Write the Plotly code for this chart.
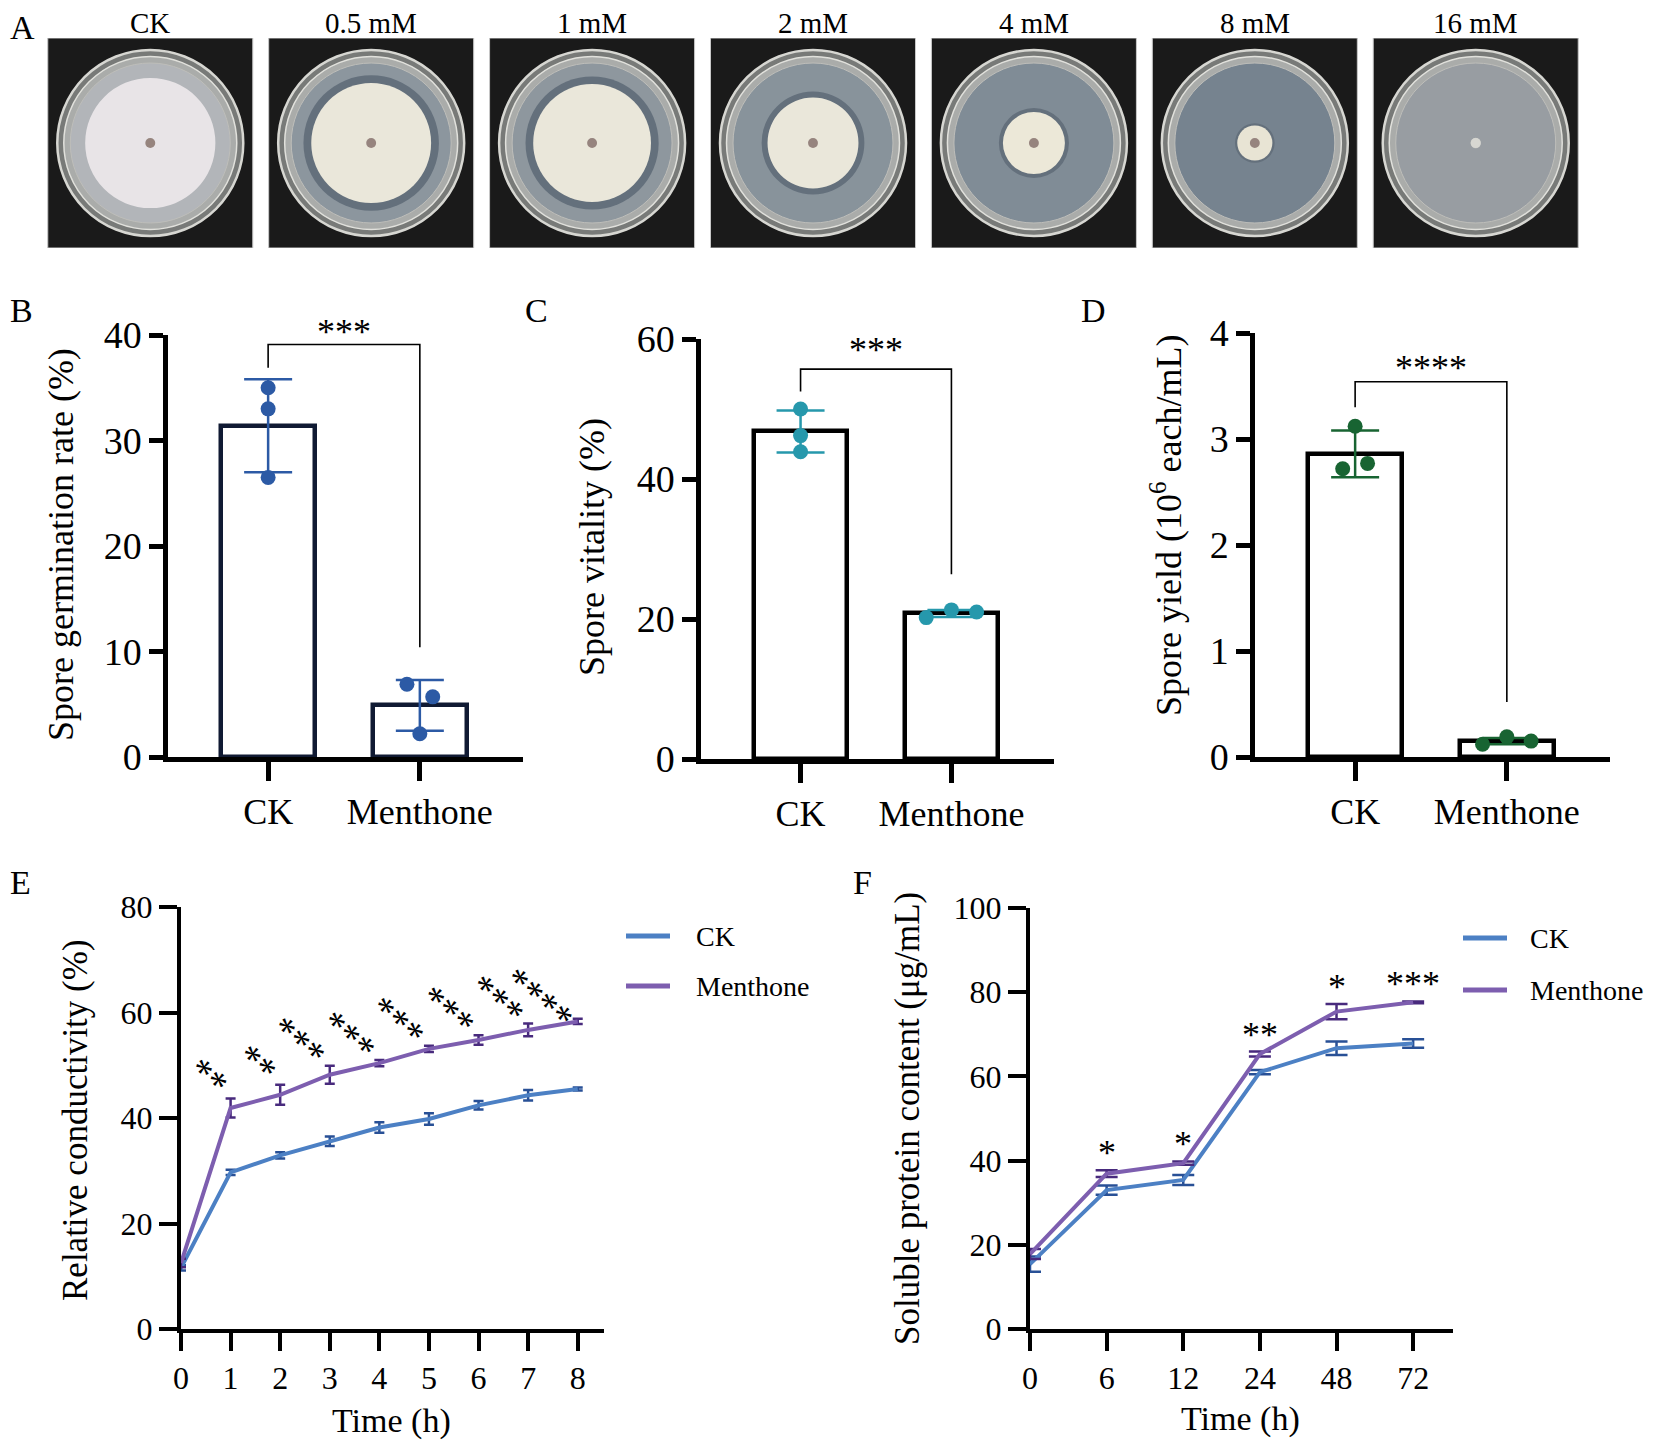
import plotly.graph_objects as go

W, H = 1654, 1443
OFF = 8  # page body margin compensation
FONT = "Liberation Serif"

# ---------------- data ----------------
plate_labels = ["CK", "0.5 mM", "1 mM", "2 mM", "4 mM", "8 mM", "16 mM"]
colony_diam_mm = [63, 58, 57, 44, 30, 17, 5]
dish_diam_mm = 90

groups = ["CK", "Menthone"]

germ_mean = [31.4, 4.9]
germ_sd = [4.4, 2.4]
germ_ck_pts = [35.0, 33.0, 26.5]
germ_men_pts = [6.9, 5.7, 2.2]
germ_bracket = [39.1, 36.9, 10.4]   # top, left end, right end
germ_sig = "***"

vital_mean = [46.8, 20.8]
vital_sd = [3.0, 0.5]
vital_ck_pts = [50.0, 46.2, 43.9]
vital_men_pts = [20.2, 21.3, 21.0]
vital_bracket = [55.7, 52.5, 26.4]
vital_sig = "***"

yield_mean = [2.86, 0.15]
yield_sd = [0.22, 0.03]
yield_ck_pts = [3.12, 2.72, 2.77]
yield_men_pts = [0.12, 0.19, 0.15]
yield_bracket = [3.54, 3.30, 0.52]
yield_sig = "****"

cond_time = [0, 1, 2, 3, 4, 5, 6, 7, 8]
cond_ck = [11.6, 29.7, 32.9, 35.6, 38.2, 39.8, 42.4, 44.3, 45.5]
cond_ck_sd = [0.5, 0.5, 0.6, 0.9, 1.0, 1.1, 0.8, 1.0, 0.3]
cond_men = [12.5, 41.9, 44.4, 48.2, 50.4, 53.1, 54.8, 56.7, 58.3]
cond_men_sd = [0.8, 1.8, 1.9, 1.7, 0.6, 0.6, 0.9, 1.2, 0.5]
cond_sig = ["", "**", "**", "***", "***", "***", "***", "***", "****"]

prot_time = ["0", "6", "12", "24", "48", "72"]
prot_ck = [15.4, 33.0, 35.4, 61.0, 66.7, 67.8]
prot_ck_sd = [1.8, 1.1, 1.2, 0.5, 1.6, 1.0]
prot_men = [17.8, 36.9, 39.4, 65.3, 75.4, 77.6]
prot_men_sd = [1.2, 0.8, 0.4, 0.6, 1.8, 0.2]
prot_sig = ["", "*", "*", "**", "*", "***"]

# ---------------- styles ----------------
CK_LINE = "rgb(76,128,196)"
MEN_LINE = "rgb(125,94,175)"
CK_ERR = "rgb(40,80,150)"
MEN_ERR = "rgb(72,42,125)"
agar_colors = ["rgb(178,181,185)", "rgb(140,150,158)", "rgb(142,151,158)",
               "rgb(136,147,155)", "rgb(128,140,150)", "rgb(118,131,143)",
               "rgb(152,157,162)"]
colony_colors = ["rgb(232,228,231)", "rgb(234,231,218)", "rgb(234,231,218)",
                 "rgb(234,231,218)", "rgb(236,232,216)", "rgb(232,228,212)",
                 "rgb(200,200,196)"]


def px(x):
    return (x - OFF) / W


def py(y):
    return 1 - (y - OFF) / H


def xd(a, b):
    return [px(a), px(b)]


def yd(top, bottom):
    return [py(bottom), py(top)]


fig = go.Figure()
annotations = []
shapes = []

# ---------------- panel A (plates) ----------------
unit_mm = 0.842 / dish_diam_mm
for i, lab in enumerate(plate_labels):
    shapes.append(dict(type="rect", xref="x6", yref="y6", x0=i - 0.464, x1=i + 0.464,
                       y0=-0.4753, y1=0.4753, fillcolor="rgb(26,26,26)",
                       line=dict(color="rgb(200,200,200)", width=1), layer="below"))
    R = dish_diam_mm * unit_mm / 2
    shapes.append(dict(type="circle", xref="x6", yref="y6", x0=i - R, x1=i + R, y0=-R, y1=R,
                       fillcolor="rgb(120,122,120)", line=dict(color="rgb(215,215,210)", width=2.5),
                       layer="below"))
    r2 = R * 0.93
    shapes.append(dict(type="circle", xref="x6", yref="y6", x0=i - r2, x1=i + r2, y0=-r2, y1=r2,
                       fillcolor="rgb(170,172,170)", line=dict(color="rgb(225,225,220)", width=1.5),
                       layer="below"))
    r3 = R * 0.86
    shapes.append(dict(type="circle", xref="x6", yref="y6", x0=i - r3, x1=i + r3, y0=-r3, y1=r3,
                       fillcolor=agar_colors[i], line=dict(color="rgb(190,190,186)", width=1),
                       layer="below"))
    rc = colony_diam_mm[i] * unit_mm / 2
    if i > 0 and colony_diam_mm[i] > 10:
        rh = rc * 1.13
        shapes.append(dict(type="circle", xref="x6", yref="y6", x0=i - rh, x1=i + rh, y0=-rh, y1=rh,
                           fillcolor="rgb(100,112,124)", line=dict(width=0), layer="below"))
    shapes.append(dict(type="circle", xref="x6", yref="y6", x0=i - rc, x1=i + rc, y0=-rc, y1=rc,
                       fillcolor=colony_colors[i], line=dict(width=0), layer="below"))
    rp = 2.4 * unit_mm
    shapes.append(dict(type="circle", xref="x6", yref="y6", x0=i - rp, x1=i + rp, y0=-rp, y1=rp,
                       fillcolor="rgb(150,132,126)" if i < 6 else "rgb(215,215,210)",
                       line=dict(width=0), layer="below"))
    annotations.append(dict(x=i, y=0.4753, xref="x6", yref="y6", text=lab, showarrow=False,
                            yanchor="bottom", yshift=-2, borderpad=0,
                            font=dict(family=FONT, size=29, color="black")))

fig.add_trace(go.Scatter(x=list(range(len(plate_labels))), y=[0] * len(plate_labels), mode="markers",
                         marker=dict(size=1, opacity=0), xaxis="x6", yaxis="y6",
                         showlegend=False, hoverinfo="skip"))

# ---------------- bar panels B, C, D ----------------
bar_panels = [
    dict(ax="", mean=germ_mean, sd=germ_sd, ck=germ_ck_pts, men=germ_men_pts,
         br=germ_bracket, sig=germ_sig, dot="rgb(44,90,165)", outline="rgb(16,26,51)",
         jck=[0, 0, 0], jmen=[-0.085, 0.085, 0], sshift=12),
    dict(ax="2", mean=vital_mean, sd=vital_sd, ck=vital_ck_pts, men=vital_men_pts,
         br=vital_bracket, sig=vital_sig, dot="rgb(38,152,172)", outline="black",
         jck=[0, 0, 0], jmen=[-0.167, 0, 0.167], sshift=19),
    dict(ax="3", mean=yield_mean, sd=yield_sd, ck=yield_ck_pts, men=yield_men_pts,
         br=yield_bracket, sig=yield_sig, dot="rgb(24,100,50)", outline="black",
         jck=[0, -0.082, 0.082], jmen=[-0.16, 0, 0.16], sshift=14),
]
for p in bar_panels:
    xa, ya = "x" + p["ax"], "y" + p["ax"]
    fig.add_trace(go.Bar(x=[0, 1], y=p["mean"], width=0.62, xaxis=xa, yaxis=ya,
                         marker=dict(color="white", line=dict(color=p["outline"], width=4.5)),
                         error_y=dict(type="data", array=p["sd"], color=p["dot"], thickness=2.5, width=24),
                         showlegend=False, hoverinfo="skip"))
    xs = [0 + j for j in p["jck"]] + [1 + j for j in p["jmen"]]
    fig.add_trace(go.Scatter(x=xs, y=p["ck"] + p["men"], mode="markers", xaxis=xa, yaxis=ya,
                             marker=dict(size=15, color=p["dot"]), showlegend=False, hoverinfo="skip"))
    top, le, re = p["br"]
    fig.add_trace(go.Scatter(x=[0, 0, 1, 1], y=[le, top, top, re], mode="lines", xaxis=xa, yaxis=ya,
                             line=dict(color="black", width=1.6), showlegend=False, hoverinfo="skip"))
    annotations.append(dict(x=0.5, y=top, xref=xa, yref=ya, text=p["sig"], showarrow=False,
                            yanchor="middle", yshift=p["sshift"],
                            font=dict(family=FONT, size=36, color="black")))

# ---------------- line panels E, F ----------------
fig.add_trace(go.Scatter(x=cond_time, y=cond_ck, mode="lines", xaxis="x4", yaxis="y4",
                         line=dict(color=CK_LINE, width=4),
                         error_y=dict(type="data", array=cond_ck_sd, color=CK_ERR, thickness=2.5, width=5),
                         cliponaxis=False, showlegend=False))
fig.add_trace(go.Scatter(x=cond_time, y=cond_men, mode="lines", xaxis="x4", yaxis="y4",
                         line=dict(color=MEN_LINE, width=4),
                         error_y=dict(type="data", array=cond_men_sd, color=MEN_ERR, thickness=2.5, width=5),
                         cliponaxis=False, showlegend=False))
star_yshift = {2: 21, 3: 24, 4: 20}
for t, m, s, lab in zip(cond_time, cond_men, cond_men_sd, cond_sig):
    if lab:
        n = len(lab)
        annotations.append(dict(x=t, y=m + s, xref="x4", yref="y4", text=lab, showarrow=False,
                                textangle=40, xanchor="center", yanchor="middle",
                                xshift=-7 - 8 * n, yshift=star_yshift[n],
                                font=dict(family=FONT, size=38, color="black")))

fx = list(range(len(prot_time)))
fig.add_trace(go.Scatter(x=fx, y=prot_ck, mode="lines", xaxis="x5", yaxis="y5",
                         line=dict(color=CK_LINE, width=4),
                         error_y=dict(type="data", array=prot_ck_sd, color=CK_ERR, thickness=2.5, width=11),
                         cliponaxis=False, showlegend=False))
fig.add_trace(go.Scatter(x=fx, y=prot_men, mode="lines", xaxis="x5", yaxis="y5",
                         line=dict(color=MEN_LINE, width=4),
                         error_y=dict(type="data", array=prot_men_sd, color=MEN_ERR, thickness=2.5, width=11),
                         cliponaxis=False, showlegend=False))
for i, m, s, lab in zip(fx, prot_men, prot_men_sd, prot_sig):
    if lab:
        annotations.append(dict(x=i, y=m + s, xref="x5", yref="y5", text=lab, showarrow=False,
                                yanchor="middle", yshift=17,
                                font=dict(family=FONT, size=36, color="black")))

# manual legends
for (x0, x1, xt, y1, y2) in [(626, 670, 694, 936, 986), (1463, 1507, 1528, 938, 990)]:
    for yy, col, name in [(y1, CK_LINE, groups[0]), (y2, MEN_LINE, groups[1])]:
        shapes.append(dict(type="line", xref="paper", yref="paper", x0=px(x0), x1=px(x1),
                           y0=py(yy), y1=py(yy), line=dict(color=col, width=5)))
        annotations.append(dict(x=px(xt), y=py(yy), xref="paper", yref="paper", text=name,
                                showarrow=False, xanchor="left", yanchor="middle",
                                font=dict(family=FONT, size=28, color="black")))

# axis titles
titles = [
    (61, 545, "Spore germination rate (%)", 36),
    (592, 547, "Spore vitality (%)", 36),
    (1166, 526, "Spore yield (10<sup>6</sup> each/mL)", 36),
    (75, 1120, "Relative conductivity (%)", 35),
    (907, 1119, "Soluble protein content (μg/mL)", 35),
]
for x, y, t, s in titles:
    annotations.append(dict(x=px(x), y=py(y), xref="paper", yref="paper", text=t, textangle=-90,
                            showarrow=False, xanchor="center", yanchor="middle",
                            font=dict(family=FONT, size=s, color="black")))
for x, y in [(391, 1421), (1240, 1419)]:
    annotations.append(dict(x=px(x), y=py(y), xref="paper", yref="paper", text="Time (h)",
                            showarrow=False, xanchor="center", yanchor="middle",
                            font=dict(family=FONT, size=34, color="black")))

# panel letters
for lab, x, y in [("A", 8, 27), ("B", 8, 311), ("C", 536, 311), ("D", 1093, 311),
                  ("E", 8, 882), ("F", 863, 882)]:
    left = x <= OFF
    annotations.append(dict(x=px(x), y=py(y), xref="paper", yref="paper", text=lab,
                            showarrow=False, xanchor="left" if left else "center", yanchor="middle",
                            font=dict(family=FONT, size=34, color="black")))

# ---------------- axes ----------------
def ax_style(size, lw, tl):
    return dict(showline=True, linecolor="black", linewidth=lw, ticks="outside", tickwidth=lw,
                ticklen=tl, tickcolor="black", showgrid=False, zeroline=False, mirror=False,
                automargin=False, tickfont=dict(family=FONT, size=size, color="black"))

bar_x = dict(range=[-0.66, 1.68], tickvals=[0, 1], ticktext=groups, **ax_style(36, 4.5, 19))

layout = dict(
    template="none",
    width=W, height=H, margin=dict(l=0, r=0, t=0, b=0, pad=0, autoexpand=False),
    paper_bgcolor="white", plot_bgcolor="rgba(0,0,0,0)", showlegend=False, bargap=0,
    xaxis=dict(domain=xd(168, 523), anchor="y", **bar_x),
    yaxis=dict(domain=yd(335, 757), anchor="x", range=[0, 40], tickvals=[0, 10, 20, 30, 40],
               **ax_style(38, 4.5, 14)),
    xaxis2=dict(domain=xd(701, 1054), anchor="y2", **bar_x),
    yaxis2=dict(domain=yd(339, 759), anchor="x2", range=[0, 60], tickvals=[0, 20, 40, 60],
                **ax_style(38, 4.5, 14)),
    xaxis3=dict(domain=xd(1255, 1610), anchor="y3", **bar_x),
    yaxis3=dict(domain=yd(333, 757), anchor="x3", range=[0, 4], tickvals=[0, 1, 2, 3, 4],
                **ax_style(38, 4.5, 14)),
    xaxis4=dict(domain=xd(181, 604), anchor="y4", range=[0, 8.53], tickvals=cond_time,
                **ax_style(32, 4, 18)),
    yaxis4=dict(domain=yd(907, 1329), anchor="x4", range=[0, 80], tickvals=[0, 20, 40, 60, 80],
                **ax_style(32, 4, 18)),
    xaxis5=dict(domain=xd(1030, 1453), anchor="y5", range=[0, 5.52], tickvals=fx, ticktext=prot_time,
                **ax_style(32, 4, 18)),
    yaxis5=dict(domain=yd(908, 1329), anchor="x5", range=[0, 100], tickvals=[0, 20, 40, 60, 80, 100],
                **ax_style(32, 4, 18)),
    xaxis6=dict(domain=xd(47, 1579), anchor="y6", range=[-0.4675, 6.4675], visible=False,
                automargin=False),
    yaxis6=dict(domain=yd(38, 248), anchor="x6", range=[-0.4753, 0.4753], visible=False,
                automargin=False),
    annotations=annotations,
    shapes=shapes,
)
fig.update_layout(**layout)
fig.write_html("out.html")
